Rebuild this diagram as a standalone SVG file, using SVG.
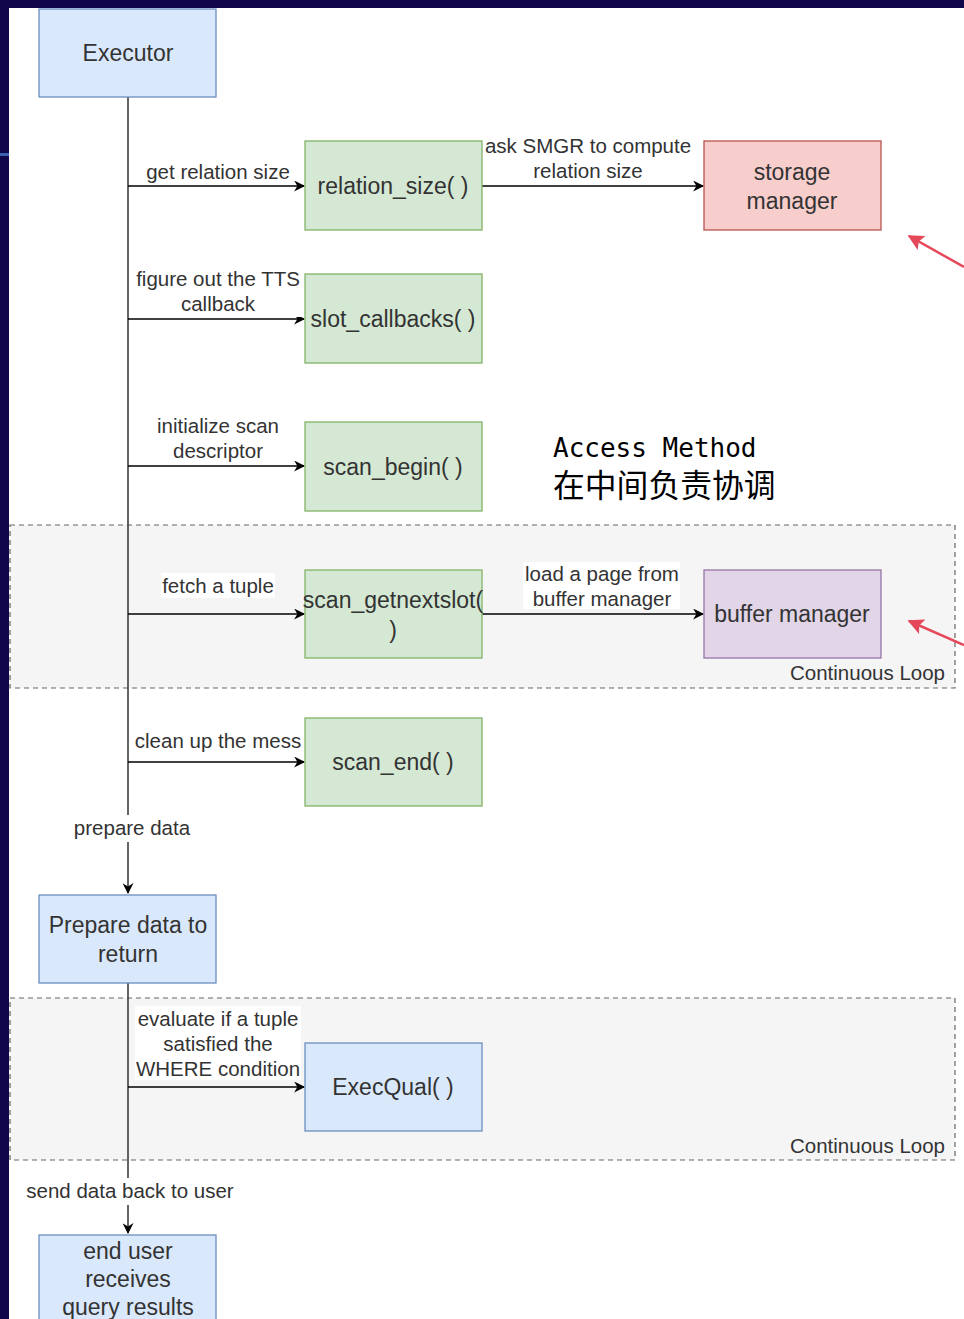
<svg xmlns="http://www.w3.org/2000/svg" width="964" height="1319" viewBox="0 0 964 1319">
<defs>
<style>
.node{stroke-width:1.3}
.blue{fill:#dae8fc;stroke:#6c8ebf}
.green{fill:#d5e8d4;stroke:#82b366}
.red{fill:#f8cecc;stroke:#b85450}
.purple{fill:#e1d5e7;stroke:#9673a6}
.loop{fill:#f5f5f5;stroke:#666;stroke-dasharray:5 4;stroke-width:1.2}
.nt{font-family:"Liberation Sans",Arial,sans-serif;font-size:23px;fill:#333;text-anchor:middle}
.et{font-family:"Liberation Sans",Arial,sans-serif;font-size:20.5px;fill:#333;text-anchor:middle}
.lt{font-family:"Liberation Sans",Arial,sans-serif;font-size:20.5px;fill:#333;text-anchor:end}
.edge{stroke:#000;stroke-width:1.5;fill:none}
.vline{stroke:#333;stroke-width:1.5;fill:none}
.bg{fill:#fff}
.red-arrow{stroke:#e5485a;stroke-width:2.5;fill:none}
</style>
<marker id="ah" viewBox="0 0 10 10" refX="9" refY="5" markerWidth="12" markerHeight="11" markerUnits="userSpaceOnUse" orient="auto">
<path d="M0,0 L10,5 L0,10 L3,5 Z" fill="#000"/>
</marker>
<marker id="rah" viewBox="0 0 10 10" refX="9" refY="5" markerWidth="20" markerHeight="16" markerUnits="userSpaceOnUse" orient="auto">
<path d="M0,0 L10,5 L0,10 L2,5 Z" fill="#e5485a"/>
</marker>
</defs>
<rect x="0" y="0" width="964" height="1319" fill="#fff"/>
<rect x="0" y="0" width="964" height="8" fill="#12064a"/>
<rect x="0" y="0" width="9" height="1319" fill="#12064a"/>
<rect x="0" y="153" width="9" height="3" fill="#3b5fb3"/>

<g id="loop1"><rect class="loop" x="10" y="525" width="945" height="163"/><text class="lt" x="945" y="680">Continuous Loop</text></g>
<g id="loop2"><rect class="loop" x="10" y="998" width="945" height="162"/><text class="lt" x="945" y="1153">Continuous Loop</text></g>

<g id="connectors">
<path class="vline" d="M128,97 V815 M128,842 V893" marker-end="url(#ah)"/>
<path class="vline" d="M128,983 V1178 M128,1205 V1233" marker-end="url(#ah)"/>
<path class="edge" d="M128,186 H304" marker-end="url(#ah)"/>
<path class="edge" d="M482,186 H703" marker-end="url(#ah)"/>
<path class="edge" d="M128,319 H304" marker-end="url(#ah)"/>
<path class="edge" d="M128,466 H304" marker-end="url(#ah)"/>
<path class="edge" d="M128,614 H304" marker-end="url(#ah)"/>
<path class="edge" d="M482,614 H703" marker-end="url(#ah)"/>
<path class="edge" d="M128,762 H304" marker-end="url(#ah)"/>
<path class="edge" d="M128,1087 H304" marker-end="url(#ah)"/>
<rect class="bg" x="145" y="159" width="147" height="25"/>
<text class="et" x="218" y="179">get relation size</text>
<rect class="bg" x="483" y="133" width="210" height="51"/>
<text class="et" x="588" y="153">ask SMGR to compute</text>
<text class="et" x="588" y="178">relation size</text>
<rect class="bg" x="134" y="266" width="168" height="51"/>
<text class="et" x="218" y="286">figure out the TTS</text>
<text class="et" x="218" y="311">callback</text>
<rect class="bg" x="155" y="413" width="126" height="51"/>
<text class="et" x="218" y="433">initialize scan</text>
<text class="et" x="218" y="458">descriptor</text>
<rect class="bg" x="161" y="573" width="114" height="25"/>
<text class="et" x="218" y="593">fetch a tuple</text>
<rect class="bg" x="523" y="562" width="157" height="47"/>
<text class="et" x="602" y="581">load a page from</text>
<text class="et" x="602" y="606">buffer manager</text>
<rect class="bg" x="133" y="728" width="170" height="25"/>
<text class="et" x="218" y="748">clean up the mess</text>
<rect class="bg" x="72" y="815" width="120" height="27"/>
<text class="et" x="132" y="835">prepare data</text>
<rect class="bg" x="135" y="1006" width="166" height="74"/>
<text class="et" x="218" y="1026">evaluate if a tuple</text>
<text class="et" x="218" y="1051">satisfied the</text>
<text class="et" x="218" y="1076">WHERE condition</text>
<rect class="bg" x="23" y="1178" width="214" height="27"/>
<text class="et" x="130" y="1198">send data back to user</text>
<path class="red-arrow" d="M964,267 L909,236" marker-end="url(#rah)"/>
<path class="red-arrow" d="M964,645 L909,621" marker-end="url(#rah)"/>
</g>

<g id="executor"><rect class="node blue" x="39" y="9" width="177" height="88"/><text class="nt" x="128" y="61">Executor</text></g>
<g id="relation_size"><rect class="node green" x="305" y="141" width="177" height="89"/><text class="nt" x="393" y="194">relation_size( )</text></g>
<g id="storage_manager"><rect class="node red" x="704" y="141" width="177" height="89"/><text class="nt" x="792" y="180">storage</text><text class="nt" x="792" y="209">manager</text></g>
<g id="slot_callbacks"><rect class="node green" x="305" y="274" width="177" height="89"/><text class="nt" x="393" y="327">slot_callbacks( )</text></g>
<g id="scan_begin"><rect class="node green" x="305" y="422" width="177" height="89"/><text class="nt" x="393" y="475">scan_begin( )</text></g>
<g id="scan_getnextslot"><rect class="node green" x="305" y="570" width="177" height="88"/><text class="nt" x="393" y="608">scan_getnextslot(</text><text class="nt" x="393" y="638">)</text></g>
<g id="buffer_manager"><rect class="node purple" x="704" y="570" width="177" height="88"/><text class="nt" x="792" y="622">buffer manager</text></g>
<g id="scan_end"><rect class="node green" x="305" y="718" width="177" height="88"/><text class="nt" x="393" y="770">scan_end( )</text></g>
<g id="prepare"><rect class="node blue" x="39" y="895" width="177" height="88"/><text class="nt" x="128" y="933">Prepare data to</text><text class="nt" x="128" y="962">return</text></g>
<g id="execqual"><rect class="node blue" x="305" y="1043" width="177" height="88"/><text class="nt" x="393" y="1095">ExecQual( )</text></g>
<g id="end_user"><rect class="node blue" x="39" y="1235" width="177" height="92"/><text class="nt" x="128" y="1259">end user</text><text class="nt" x="128" y="1287">receives</text><text class="nt" x="128" y="1315">query results</text></g>

<g id="note">
<text x="553" y="457" font-family="'DejaVu Sans Mono','Liberation Mono',monospace" font-size="26px" fill="#000">Access Method</text>
<text x="553" y="497" font-family="'Noto Sans CJK SC',sans-serif" font-size="31.8px" fill="#000">在中间负责协调</text>
</g>
</svg>
